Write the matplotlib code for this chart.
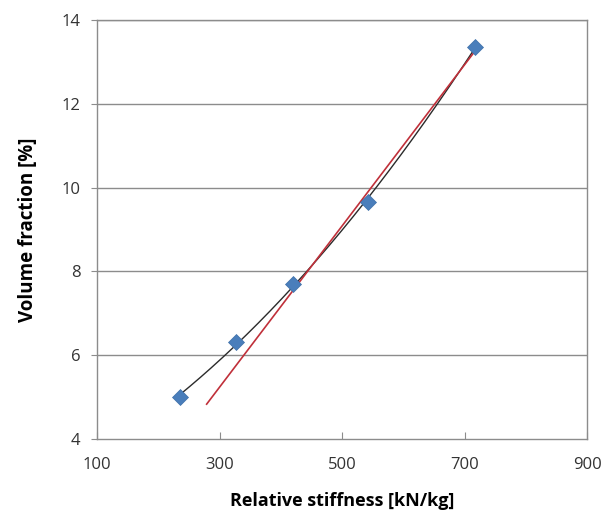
import numpy as np
import matplotlib
matplotlib.use("Agg")
import matplotlib.pyplot as plt

stiffness = [235, 327, 420, 543, 717]
volume_fraction = [5.0, 6.32, 7.69, 9.66, 13.36]
linear_fit_start = 279
x_ticks = [100, 300, 500, 700, 900]
y_ticks = [4, 6, 8, 10, 12, 14]

plt.rcParams['font.family'] = ['Open Sans', 'DejaVu Sans']

fig = plt.figure(figsize=(6.09, 5.24), dpi=100)
ax = fig.add_axes([97/609, 1-439/524, 490/609, 419/524])

grid_c = '#8c8c8c'
for yv in y_ticks[1:]:
    ax.axhline(yv, color=grid_c, lw=1.0, zorder=1)

xs = np.array(stiffness, float)
ys = np.array(volume_fraction, float)

# quadratic trend through all points
c2 = np.polyfit(xs, ys, 2)
xx = np.linspace(xs.min(), xs.max(), 200)
ax.plot(xx, np.polyval(c2, xx), color='#2b2b2b', lw=1.0, zorder=2)

# linear fit of last three points
cl = np.polyfit(xs[2:], ys[2:], 1)
xl = np.array([linear_fit_start, xs.max()])
ax.plot(xl, np.polyval(cl, xl), color='#c0303a', lw=1.2, zorder=3)

ax.plot(xs, ys, linestyle='none', marker='D', markersize=8,
        color='#4a7ebb', markeredgecolor='#3d6fa8', markeredgewidth=0.5, zorder=4)

ax.set_xlim(100, 900)
ax.set_ylim(4, 14)
ax.set_xticks(x_ticks)
ax.set_yticks(y_ticks)
for s in ax.spines.values():
    s.set_color(grid_c)
    s.set_linewidth(1.0)
ax.tick_params(axis='x', direction='in', length=5, color=grid_c, pad=13,
               labelsize=12, labelcolor='#333333')
ax.tick_params(axis='y', direction='out', length=4, color=grid_c, pad=8,
               labelsize=12, labelcolor='#333333')
ax.tick_params(axis='x', top=False)
ax.tick_params(axis='y', right=False)

ax.set_xlabel('Relative stiffness [kN/kg]', fontsize=13, fontweight='bold', labelpad=14)
ax.set_ylabel('Volume fraction [%]', fontsize=13.5, fontweight='bold', labelpad=17)

fig.savefig('out.png', dpi=100)
